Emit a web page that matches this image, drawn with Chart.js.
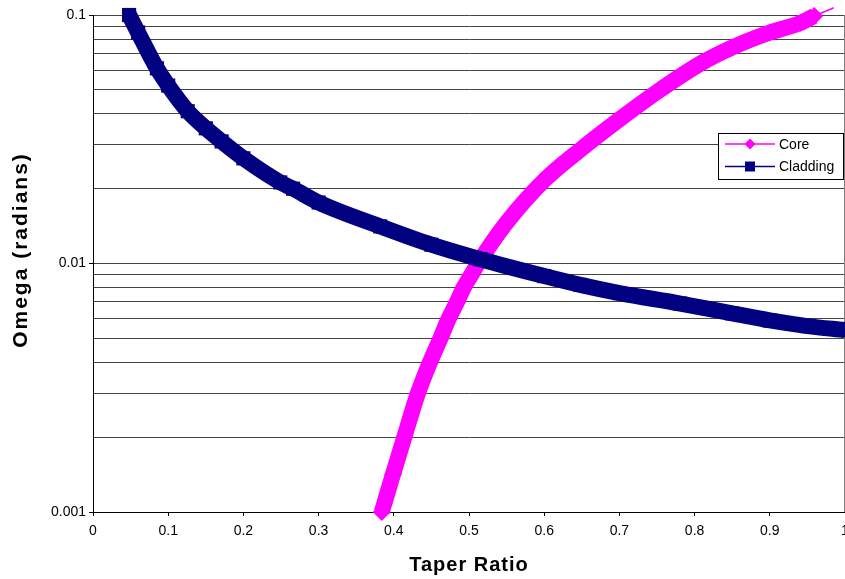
<!DOCTYPE html>
<html>
<head>
<meta charset="utf-8">
<script src="https://cdn.jsdelivr.net/npm/chart.js@4"></script>
<style>
  body { margin: 0; background: #fff; }
  #wrap { position: relative; width: 845px; height: 579px; }
</style>
</head>
<body>
<div id="wrap"><canvas id="chart"></canvas></div>
<script>
// values
var coreX = [0.384, 0.399, 0.414, 0.432, 0.448, 0.462, 0.473, 0.484, 0.493, 0.503, 0.512, 0.55, 0.6, 0.65, 0.7, 0.75, 0.808, 0.85, 0.9, 0.941, 0.959, 0.985];
var coreY = [0.001, 0.00142, 0.002, 0.003, 0.004, 0.005, 0.006, 0.007, 0.008, 0.009, 0.01, 0.0146, 0.0216, 0.029, 0.038, 0.049, 0.0638, 0.074, 0.085, 0.093, 0.099, 0.107];

var cladX = [0.048, 0.06, 0.085, 0.1, 0.126, 0.15, 0.171, 0.2, 0.249, 0.266, 0.3, 0.382, 0.45, 0.515, 0.6, 0.648, 0.7, 0.781, 0.85, 0.9, 0.95, 1.0];
var cladY = [0.1, 0.085, 0.061, 0.052, 0.041, 0.035, 0.031, 0.0265, 0.0212, 0.02, 0.0176, 0.0141, 0.0119, 0.0104, 0.0089, 0.0082, 0.0076, 0.0069, 0.0063, 0.0059, 0.0056, 0.0054];

var seriesNames = ['Core', 'Cladding'];
var xTitle = 'Taper Ratio';
var yTitle = 'Omega (radians)';

var xTickValues = [0, 0.1, 0.2, 0.3, 0.4, 0.5, 0.6, 0.7, 0.8, 0.9, 1];
var xTickLabels = ['0', '0.1', '0.2', '0.3', '0.4', '0.5', '0.6', '0.7', '0.8', '0.9', '1'];

var yGridValues = [0.001, 0.002, 0.003, 0.004, 0.005, 0.006, 0.007, 0.008, 0.009,
                   0.01, 0.02, 0.03, 0.04, 0.05, 0.06, 0.07, 0.08, 0.09, 0.1];
var yTickValues = [0.001, 0.01, 0.1];
var yTickLabels = ['0.001', '0.01', '0.1'];

var FONT = "'Liberation Sans', Arial, sans-serif";
Chart.defaults.font.family = FONT;
Chart.defaults.color = '#000';

function yLabelIndex(v) {
  for (var i = 0; i < yTickValues.length; i++) {
    if (Math.abs(v - yTickValues[i]) < yTickValues[i] * 1e-6) return i;
  }
  return -1;
}

function toPoints(xs, ys) {
  return xs.map(function (x, i) { return { x: x, y: ys[i] }; });
}

// right border of the plot area
var frame = {
  id: 'frame',
  beforeDatasetsDraw: function (chart) {
    var a = chart.chartArea, ctx = chart.ctx;
    ctx.save();
    ctx.strokeStyle = '#808080';
    ctx.lineWidth = 1;
    ctx.beginPath();
    ctx.moveTo(a.right - 0.5, a.top);
    ctx.lineTo(a.right - 0.5, a.bottom);
    ctx.stroke();
    ctx.restore();
  }
};

// axis titles, drawn with a little letter spacing like the original
var axisTitles = {
  id: 'axisTitles',
  afterDraw: function (chart) {
    var ctx = chart.ctx;
    ctx.save();
    ctx.fillStyle = '#000';
    ctx.textAlign = 'center';
    ctx.textBaseline = 'middle';
    ctx.font = 'bold 20px ' + FONT;
    ctx.letterSpacing = '1px';
    ctx.fillText(xTitle, 469, 565);
    ctx.translate(21, 250);
    ctx.rotate(-Math.PI / 2);
    ctx.font = 'bold 21px ' + FONT;
    ctx.letterSpacing = '2px';
    ctx.fillText(yTitle, 0, 0);
    ctx.restore();
  }
};

// excel style legend: line with marker through it
var lineLegend = {
  id: 'lineLegend',
  afterDraw: function (chart) {
    var ctx = chart.ctx;
    var left = 718, top = 133, w = 125, h = 46;
    ctx.save();
    ctx.fillStyle = '#fff';
    ctx.fillRect(left, top, w, h);
    ctx.strokeStyle = '#000';
    ctx.lineWidth = 1;
    ctx.strokeRect(left + 0.5, top + 0.5, w, h);
    chart.data.datasets.forEach(function (ds, i) {
      var y = 144 + i * 22.5;
      ctx.strokeStyle = ds.borderColor;
      ctx.lineWidth = 1.5;
      ctx.beginPath();
      ctx.moveTo(725, y);
      ctx.lineTo(775, y);
      ctx.stroke();
      ctx.fillStyle = ds.borderColor;
      ctx.beginPath();
      if (ds.pointStyle === 'rectRot') {
        ctx.moveTo(750, y - 5.5);
        ctx.lineTo(755.5, y);
        ctx.lineTo(750, y + 5.5);
        ctx.lineTo(744.5, y);
        ctx.closePath();
      } else {
        ctx.rect(745, y - 5, 10, 10);
      }
      ctx.fill();
      ctx.fillStyle = '#000';
      ctx.font = '14px ' + FONT;
      ctx.textBaseline = 'middle';
      ctx.textAlign = 'left';
      ctx.fillText(ds.label, 779, y + 1);
    });
    ctx.restore();
  }
};

var lastCore = coreX.length - 1;

var chart = new Chart(document.getElementById('chart'), {
  type: 'scatter',
  data: {
    datasets: [
      {
        label: seriesNames[0],
        data: toPoints(coreX, coreY),
        order: 1,
        showLine: true,
        borderColor: '#ff00ff',
        backgroundColor: '#ff00ff',
        borderWidth: 16,
        borderJoinStyle: 'round',
        cubicInterpolationMode: 'monotone',
        pointStyle: 'rectRot',
        pointRadius: function (c) { return c.dataIndex === lastCore ? 0 : 9; },
        pointBorderWidth: 0,
        segment: {
          borderWidth: function (c) { return c.p1DataIndex === lastCore ? 1.5 : 16; }
        },
        clip: false
      },
      {
        label: seriesNames[1],
        data: toPoints(cladX, cladY),
        order: 0,
        showLine: true,
        borderColor: '#000080',
        backgroundColor: '#000080',
        borderWidth: 16,
        borderJoinStyle: 'round',
        cubicInterpolationMode: 'monotone',
        pointStyle: 'rect',
        pointRadius: 10,
        pointBorderWidth: 0,
        clip: false
      }
    ]
  },
  options: {
    responsive: true,
    maintainAspectRatio: false,
    animation: false,
    layout: { autoPadding: false, padding: { top: 15, right: 0, left: 0, bottom: 0 } },
    plugins: {
      legend: { display: false },
      tooltip: { enabled: false }
    },
    scales: {
      x: {
        type: 'linear',
        min: 0,
        max: 1,
        afterBuildTicks: function (s) {
          s.ticks = xTickValues.map(function (v) { return { value: v }; });
        },
        afterFit: function (s) {
          s.height = 67;
          s.paddingLeft = 0;
          s.paddingRight = 0;
        },
        ticks: {
          autoSkip: false,
          maxRotation: 0,
          padding: 7,
          font: { size: 14 },
          color: '#000',
          callback: function (v, i) { return xTickLabels[i]; }
        },
        grid: { drawOnChartArea: false, tickLength: 4, tickColor: '#000' },
        border: { color: '#000', width: 1 },
        title: { display: false, text: xTitle }
      },
      y: {
        type: 'logarithmic',
        min: 0.001,
        max: 0.1,
        afterBuildTicks: function (s) {
          s.ticks = yGridValues.map(function (v) { return { value: v }; });
        },
        afterFit: function (s) {
          s.width = 93;
          s.paddingTop = 0;
          s.paddingBottom = 0;
        },
        ticks: {
          autoSkip: false,
          padding: 3,
          font: { size: 14 },
          color: '#000',
          callback: function (v) {
            var i = yLabelIndex(v);
            return i >= 0 ? yTickLabels[i] : '';
          }
        },
        grid: {
          color: '#444',
          lineWidth: 1,
          tickLength: 4,
          tickColor: function (c) {
            return c.tick && yLabelIndex(c.tick.value) >= 0 ? '#000' : 'rgba(0,0,0,0)';
          }
        },
        border: { color: '#000', width: 1 },
        title: { display: false, text: yTitle }
      }
    }
  },
  plugins: [frame, axisTitles, lineLegend]
});
</script>
</body>
</html>
